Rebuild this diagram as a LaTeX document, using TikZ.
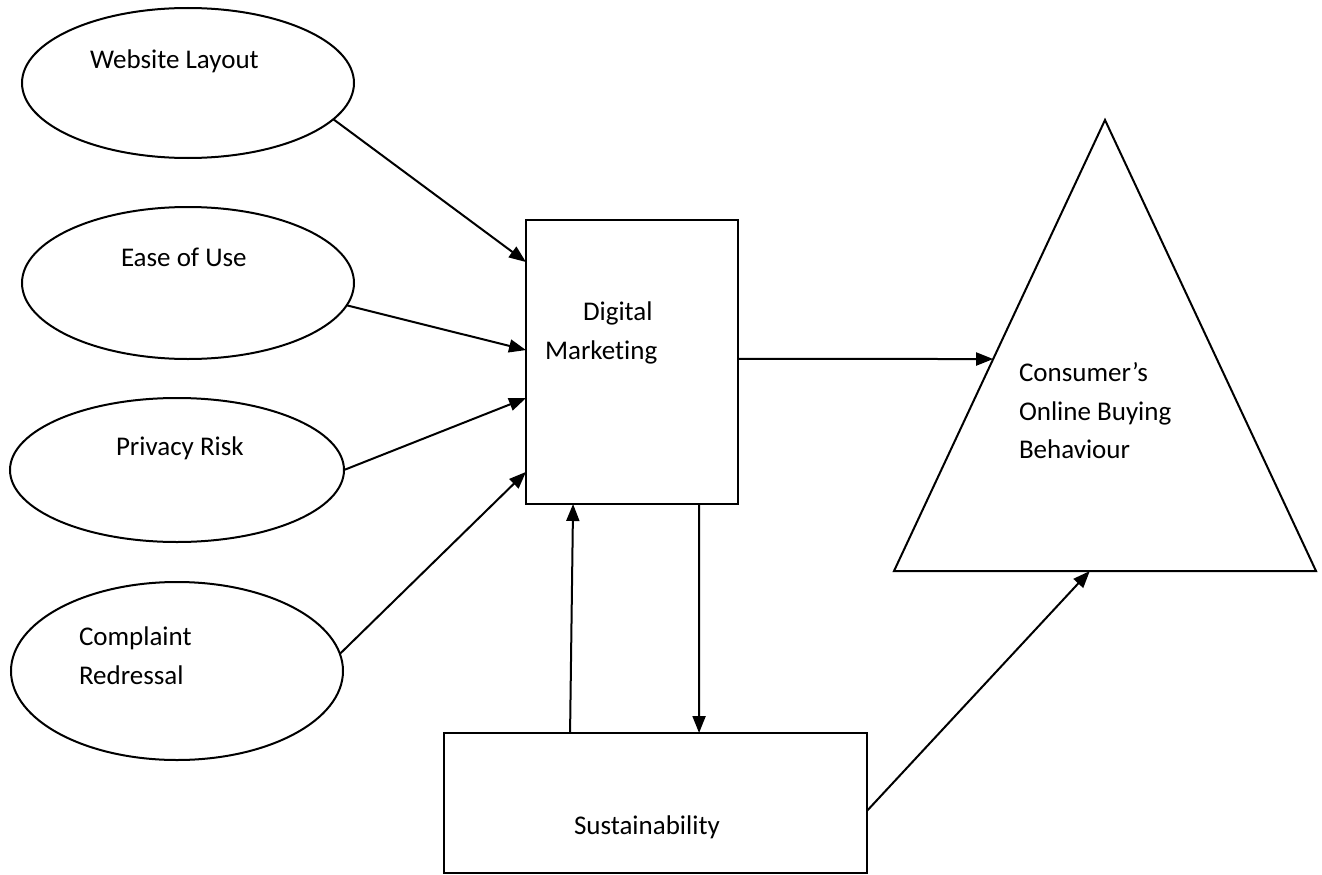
\documentclass[tikz,border=0pt]{standalone}
\usepackage{fontspec}
\setmainfont{Carlito}[Ligatures=NoCommon]
\usetikzlibrary{shapes.geometric,arrows.meta,calc}
\begin{document}
\begin{tikzpicture}[x=1pt,y=-1pt,
  every node/.style={inner sep=0pt,outer sep=0pt},
  oval/.style={draw,ellipse,line width=2pt},
  boxnode/.style={draw,rectangle,line width=2pt},
  lbl/.style={anchor=base west,font=\fontsize{27}{38.5}\selectfont},
  conn/.style={line width=2pt,-{Triangle[length=17pt,width=13pt]}}]
\useasboundingbox (0,0) rectangle (1322,875);
% ellipses
\node[oval,minimum width=332pt,minimum height=150pt] (wl) at (188,83) {};
\node[oval,minimum width=332pt,minimum height=152pt] (eu) at (188,283) {};
\node[oval,minimum width=334pt,minimum height=144pt] (pr) at (177,470) {};
\node[oval,minimum width=332pt,minimum height=178pt] (cr) at (177,671) {};
% rectangles
\node[boxnode,minimum width=212pt,minimum height=284pt] (dm) at (632,362) {};
\node[boxnode,minimum width=423pt,minimum height=140pt] (su) at (655.5,803) {};
% triangle
\coordinate (tA) at (1105,120);
\coordinate (tL) at (894,571);
\coordinate (tR) at (1316,571);
\draw[line width=2pt,line join=miter] (tA) -- (tL) -- (tR) -- cycle;
% labels
\node[lbl] (t1) at (90,69) {Website Layout};
\node[lbl] (t2) at (121,266) {Ease of Use};
\node[lbl] (t3) at (116,455) {Privacy Risk};
\node[lbl] (t4a) at (79,645) {Complaint};
\node[lbl] (t4b) at (79,684) {Redressal};
\node[lbl] (t5a) at (583,320) {Digital};
\node[lbl] (t5b) at (545,359) {Marketing};
\node[lbl] (t6a) at (1019,381) {Consumer’s};
\node[lbl] (t6b) at (1019,420) {Online Buying};
\node[lbl] (t6c) at (1019,458) {Behaviour};
\node[lbl] (t7) at (574,834) {Sustainability};
% connectors
\draw[conn] (wl.-14) -- ($(dm.north west)!0.148!(dm.south west)$);
\draw[conn] (eu.-8) -- ($(dm.north west)!0.458!(dm.south west)$);
\draw[conn] (pr.east) -- ($(dm.north west)!0.627!(dm.south west)$);
\draw[conn] (cr.6) -- ($(dm.north west)!0.887!(dm.south west)$);
\draw[conn] ($(dm.north east)!0.489!(dm.south east)$) -- ($(tA)!0.53!(tL)$);
\draw[conn] ($(su.north west)!0.298!(su.north east)$) -- ($(dm.south west)!0.222!(dm.south east)$);
\draw[conn] ($(dm.south west)!0.816!(dm.south east)$) -- ($(su.north west)!0.603!(su.north east)$);
\draw[conn] ($(su.north east)!0.556!(su.south east)$) -- ($(tL)!0.464!(tR)$);
\end{tikzpicture}
\end{document}
